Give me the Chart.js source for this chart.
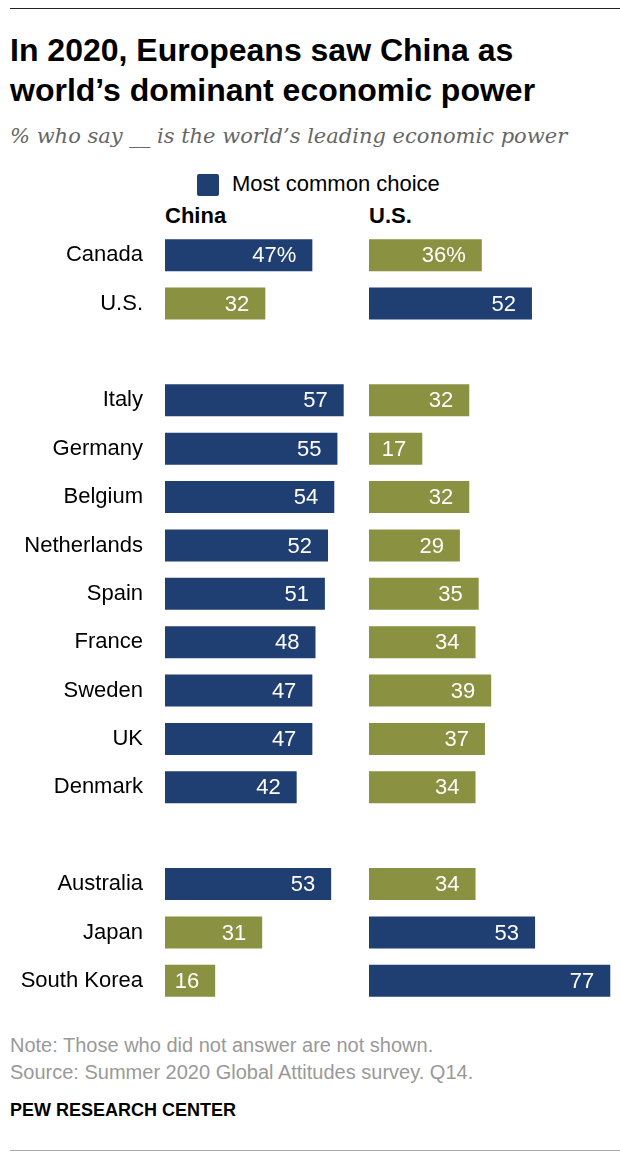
<!DOCTYPE html>
<html>
<head>
<meta charset="utf-8">
<script src="https://cdn.jsdelivr.net/npm/chart.js@4.4.1/dist/chart.umd.min.js"></script>
<style>
  body { margin: 0; width: 620px; height: 1158px; background: #fff; position: relative; font-family: "Liberation Sans", Arial, sans-serif; overflow: hidden; }
  .abs { position: absolute; white-space: nowrap; }
  #topRule { left: 10px; right: 0; top: 8px; border-top: 1px solid #222; }
  #bottomRule { left: 10px; right: 0; top: 1150px; border-top: 1px solid #aaa; }
  #title { left: 10px; top: 30px; font-size: 32px; font-weight: bold; line-height: 40px; color: #000; }
  #subtitle { left: 10px; top: 124px; font-family: "DejaVu Serif", serif; font-style: italic; font-size: 21px; color: #666; }
  #legBox { left: 197px; top: 174px; width: 22px; height: 22px; background: #1f3f72; border-radius: 2px; }
  #legText { left: 232px; top: 171px; font-size: 22px; color: #000; }
  .head { top: 203px; font-size: 22px; font-weight: bold; color: #000; }
  .note { left: 10px; font-size: 20px; color: #999; }
  #pew { left: 10px; top: 1100px; font-size: 18px; font-weight: bold; color: #000; }
  canvas { position: absolute; }
</style>
</head>
<body>
<div class="abs" id="topRule"></div>
<div class="abs" id="title">In 2020, Europeans saw China as<br>world’s dominant economic power</div>
<div class="abs" id="subtitle">% who say __ is the world’s leading economic power</div>
<div class="abs" id="legBox"></div>
<div class="abs" id="legText">Most common choice</div>
<div class="abs head" style="left:165px">China</div>
<div class="abs head" style="left:369px">U.S.</div>

<div style="position:absolute;left:0;top:231px;width:360px;height:774px"><canvas id="chinaChart"></canvas></div>
<div style="position:absolute;left:369px;top:231px;width:251px;height:774px"><canvas id="usChart"></canvas></div>

<div class="abs note" style="top:1034px">Note: Those who did not answer are not shown.</div>
<div class="abs note" style="top:1061px">Source: Summer 2020 Global Attitudes survey. Q14.</div>
<div class="abs" id="pew">PEW RESEARCH CENTER</div>
<div class="abs" id="bottomRule"></div>

<script>
// rows, with blank rows as group spacers
const countries = ['Canada', 'U.S.', '', 'Italy', 'Germany', 'Belgium', 'Netherlands', 'Spain', 'France', 'Sweden', 'UK', 'Denmark', '', 'Australia', 'Japan', 'South Korea']
const chinaValues = [47, 32, null, 57, 55, 54, 52, 51, 48, 47, 47, 42, null, 53, 31, 16]
const usValues = [36, 52, null, 32, 17, 32, 29, 35, 34, 39, 37, 34, null, 34, 53, 77]

const NAVY = '#1f3f72'
const OLIVE = '#8a9141'
const FONT = '"Liberation Sans", Arial, sans-serif'

// navy marks the most common answer in each country
const chinaColors = chinaValues.map((v, i) => (v >= usValues[i] ? NAVY : OLIVE))
const usColors = usValues.map((v, i) => (v > chinaValues[i] ? NAVY : OLIVE))

const valueLabels = {
    id: 'valueLabels',
    afterDatasetsDraw(chart) {
        const ctx = chart.ctx
        const meta = chart.getDatasetMeta(0)
        const data = chart.data.datasets[0].data
        ctx.save()
        ctx.fillStyle = '#fff'
        ctx.font = '22px ' + FONT
        ctx.textAlign = 'right'
        ctx.textBaseline = 'middle'
        meta.data.forEach((bar, i) => {
            if (data[i] == null) return
            const txt = i === 0 ? data[i] + '%' : String(data[i])
            ctx.fillText(txt, bar.x - 16, bar.y + 1)
        })
        ctx.restore()
    }
}

function makeChart(id, values, colors, max, showLabels) {
    return new Chart(document.getElementById(id), {
        type: 'bar',
        data: {
            labels: countries,
            datasets: [{
                data: values,
                backgroundColor: colors,
                borderWidth: 0,
                barPercentage: 0.66,
                categoryPercentage: 1
            }]
        },
        options: {
            indexAxis: 'y',
            responsive: true,
            maintainAspectRatio: false,
            animation: false,
            layout: { padding: 0 },
            plugins: { legend: { display: false }, tooltip: { enabled: false } },
            scales: {
                x: { display: false, min: 0, max: max },
                y: {
                    display: showLabels,
                    grid: { display: false, drawTicks: false },
                    border: { display: false },
                    ticks: { color: '#000', font: { family: FONT, size: 22 }, padding: 22 },
                    afterFit(scale) {
                        if (!showLabels) return
                        scale.width = 165
                        scale.paddingTop = 0
                        scale.paddingBottom = 0
                    }
                }
            }
        },
        plugins: [valueLabels]
    })
}

// same px per point on both panels
makeChart('chinaChart', chinaValues, chinaColors, 62.2, true)
makeChart('usChart', usValues, usColors, 80.1, false)
</script>
</body>
</html>
